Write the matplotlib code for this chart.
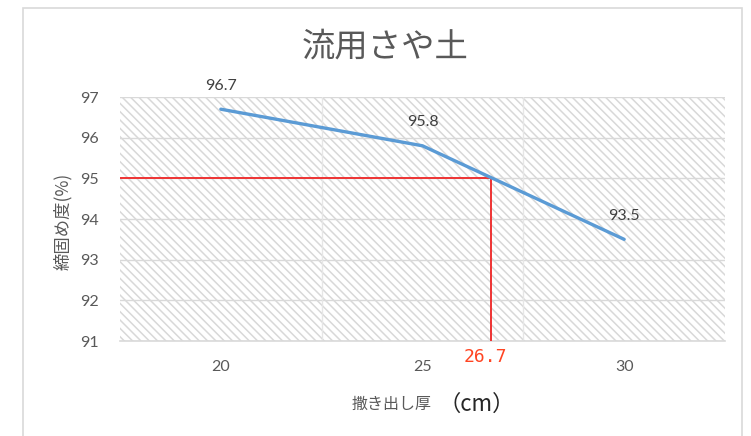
import numpy as np
import matplotlib
matplotlib.use("Agg")
import matplotlib.pyplot as plt
from matplotlib.patches import Rectangle

plt.rcParams['font.family'] = ['Noto Sans CJK JP', 'DejaVu Sans']
plt.rcParams['hatch.linewidth'] = 1.1

# data
thickness = [20, 25, 30]
compaction = [96.7, 95.8, 93.5]
target_compaction = 95
target_thickness = 26.7
title = "流用さや土"
xlabel = "撒き出し厚"
xunit = "（cm）"
ylabel = "締固め度(%)"
yticks = [91, 92, 93, 94, 95, 96, 97]

fig = plt.figure(figsize=(7.51, 4.36), dpi=100)
fig.patches.append(Rectangle((23 / 751, -0.05), (742 - 23) / 751, 1 - 8 / 436 + 0.05,
                             transform=fig.transFigure, fill=False,
                             edgecolor='#d9d9d9', lw=1.2))

ax = fig.add_axes([120 / 751, 1 - 341 / 436, (725 - 120) / 751, (341 - 97) / 436])
ax.set_xlim(17.5, 32.5)
ax.set_ylim(91, 97)

ax.add_patch(Rectangle((0, 0), 1, 1, transform=ax.transAxes, facecolor='white',
                       edgecolor='#d8d8d8', lw=0, hatch='\\' * 4, zorder=0))

for y in yticks:
    ax.axhline(y, color='#d9d9d9', lw=1.0, zorder=1)
for x in [22.5, 27.5]:
    ax.axvline(x, color='#e6e6e6', lw=1.0, zorder=1)

for s in ['top', 'right', 'left']:
    ax.spines[s].set_visible(False)
ax.spines['bottom'].set_color('#d9d9d9')
ax.spines['bottom'].set_linewidth(1.2)

ax.set_xticks(thickness)
ax.set_yticks(yticks)
ax.tick_params(length=0, labelsize=11.5, labelcolor='#595959')
ax.tick_params(axis='x', pad=14)
ax.tick_params(axis='y', pad=15)
for lab in ax.get_xticklabels() + ax.get_yticklabels():
    lab.set_family(['Lato', 'DejaVu Sans'])

# red guide lines
ax.plot([17.5, target_thickness], [target_compaction, target_compaction],
        color='#ee3333', lw=1.4, zorder=3, solid_capstyle='butt')
ax.plot([target_thickness, target_thickness], [91, target_compaction],
        color='#ee3333', lw=1.4, zorder=3, solid_capstyle='butt')

ax.plot(thickness, compaction, color='#5b9bd5', lw=2.4, zorder=4,
        solid_capstyle='round', solid_joinstyle='round')

for x, y in zip(thickness, compaction):
    ax.annotate(f"{y}", (x, y), xytext=(0, 12), textcoords='offset points',
                ha='center', va='bottom', fontsize=11.5, color='#404040',
                family=['Lato', 'DejaVu Sans'])

ax.annotate(f"{target_thickness}", (target_thickness, 91), xytext=(-4, -5),
            textcoords='offset points', ha='center', va='top', fontsize=13,
            color='#ff4422', family=['DejaVu Sans Mono'])

fig.text(385 / 751, 1 - 47 / 436, title, ha='center', va='center',
         fontsize=24, color='#595959')
fig.text(392 / 751, 1 - 404 / 436, xlabel, ha='center', va='center',
         fontsize=11.5, color='#595959')
fig.text(477 / 751, 1 - 404 / 436, xunit, ha='center', va='center',
         fontsize=16, color='#262626')
fig.text(63 / 751, 1 - 221 / 436, ylabel, ha='center', va='center',
         rotation=90, fontsize=12.5, color='#595959')

fig.savefig('out.png', dpi=100)
